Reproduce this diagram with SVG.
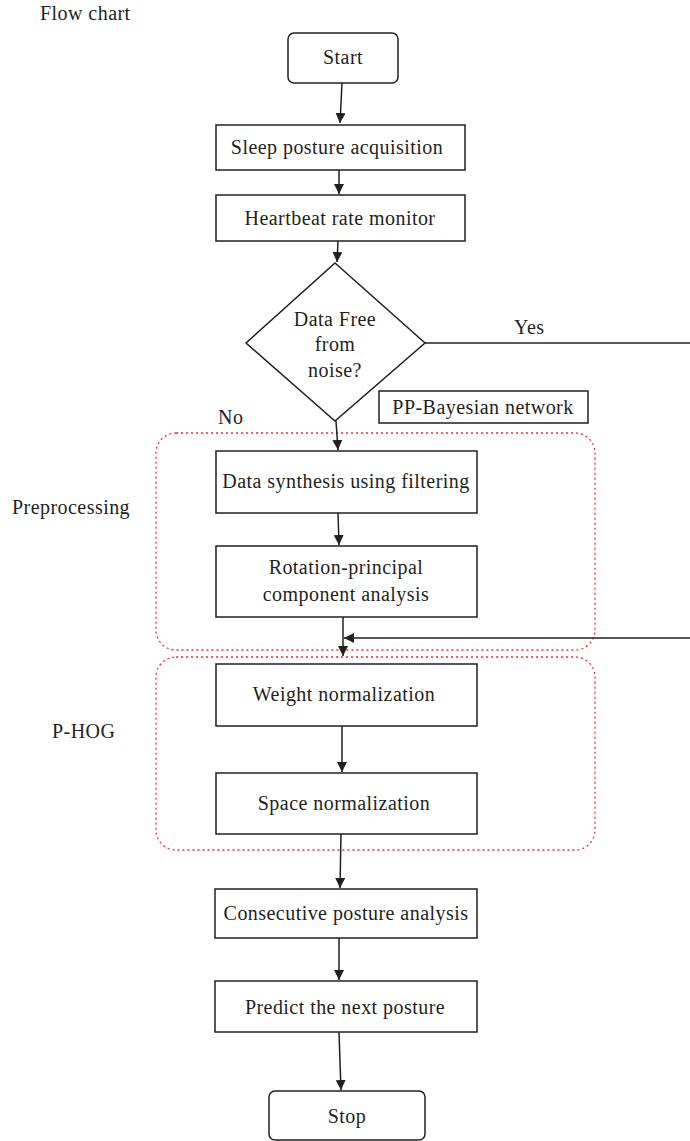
<svg xmlns="http://www.w3.org/2000/svg" width="690" height="1141" viewBox="0 0 690 1141">
<style>
text{font-family:"Liberation Serif","Times New Roman",serif;font-size:20px;letter-spacing:0.45px;fill:#231f20}
.n{fill:#fff;stroke:#231f20;stroke-width:1.5}
.c{fill:none;stroke:#231f20;stroke-width:1.5}
.g{fill:none;stroke:#e8312f;stroke-width:1.3;stroke-dasharray:2 3}
.m{text-anchor:middle}
</style>
<defs>
<marker id="ah" viewBox="0 0 10 10" refX="10" refY="5" markerWidth="10" markerHeight="10" markerUnits="userSpaceOnUse" orient="auto">
<path d="M0,0 L10,5 L0,10 z" fill="#231f20"/>
</marker>
</defs>
<rect width="690" height="1141" fill="#fff"/>
<text x="40" y="20">Flow chart</text>
<g id="grp-pre"><rect class="g" x="156" y="433" width="439" height="217" rx="20"/><text x="12" y="514">Preprocessing</text></g>
<g id="grp-phog"><rect class="g" x="156" y="657" width="439" height="193" rx="20"/><text x="52" y="738">P-HOG</text></g>
<g id="connectors">
<path class="c" d="M342,83 L340,123" marker-end="url(#ah)"/>
<path class="c" d="M339,170 L339,194" marker-end="url(#ah)"/>
<path class="c" d="M338,241 L337,262" marker-end="url(#ah)"/>
<path class="c" d="M425,343 L690,343"/>
<path class="c" d="M336,421 L338,450" marker-end="url(#ah)"/>
<path class="c" d="M338,513 L339,545" marker-end="url(#ah)"/>
<path class="c" d="M343,617 L343,656" marker-end="url(#ah)"/>
<path class="c" d="M690,638 L344,638" marker-end="url(#ah)"/>
<path class="c" d="M342,726 L342,772" marker-end="url(#ah)"/>
<path class="c" d="M341,834 L340,888" marker-end="url(#ah)"/>
<path class="c" d="M339,938 L339,980" marker-end="url(#ah)"/>
<path class="c" d="M339,1032 L341,1090" marker-end="url(#ah)"/>
<text x="514" y="334">Yes</text>
<text x="218" y="424">No</text>
</g>
<g id="start"><rect class="n" x="288" y="33" width="110" height="50" rx="6"/><text class="m" x="343" y="64">Start</text></g>
<g id="sleep"><rect class="n" x="216" y="125" width="249" height="45"/><text class="m" x="337" y="154">Sleep posture acquisition</text></g>
<g id="heart"><rect class="n" x="216" y="195" width="249" height="46"/><text class="m" x="340" y="225">Heartbeat rate monitor</text></g>
<g id="decision"><path class="n" d="M335,263 L425,343 L335,421 L246,343 Z"/><text class="m" x="335" y="326">Data Free</text><text class="m" x="335" y="351">from</text><text class="m" x="335" y="377">noise?</text></g>
<g id="ppbayes"><rect class="n" x="379" y="391" width="209" height="32"/><text class="m" x="483" y="414">PP-Bayesian network</text></g>
<g id="synth"><rect class="n" x="216" y="451" width="261" height="62"/><text class="m" x="346" y="488">Data synthesis using filtering</text></g>
<g id="rpca"><rect class="n" x="216" y="546" width="261" height="71"/><text class="m" x="346" y="574">Rotation-principal</text><text class="m" x="346" y="601">component analysis</text></g>
<g id="weight"><rect class="n" x="216" y="664" width="261" height="62"/><text class="m" x="344" y="701">Weight normalization</text></g>
<g id="space"><rect class="n" x="216" y="773" width="261" height="61"/><text class="m" x="344" y="810">Space normalization</text></g>
<g id="consec"><rect class="n" x="215" y="889" width="262" height="49"/><text class="m" x="346" y="920">Consecutive posture analysis</text></g>
<g id="predict"><rect class="n" x="215" y="981" width="262" height="51"/><text class="m" x="345" y="1014">Predict the next posture</text></g>
<g id="stop"><rect class="n" x="269" y="1091" width="156" height="49" rx="6"/><text class="m" x="347" y="1123">Stop</text></g>
</svg>
